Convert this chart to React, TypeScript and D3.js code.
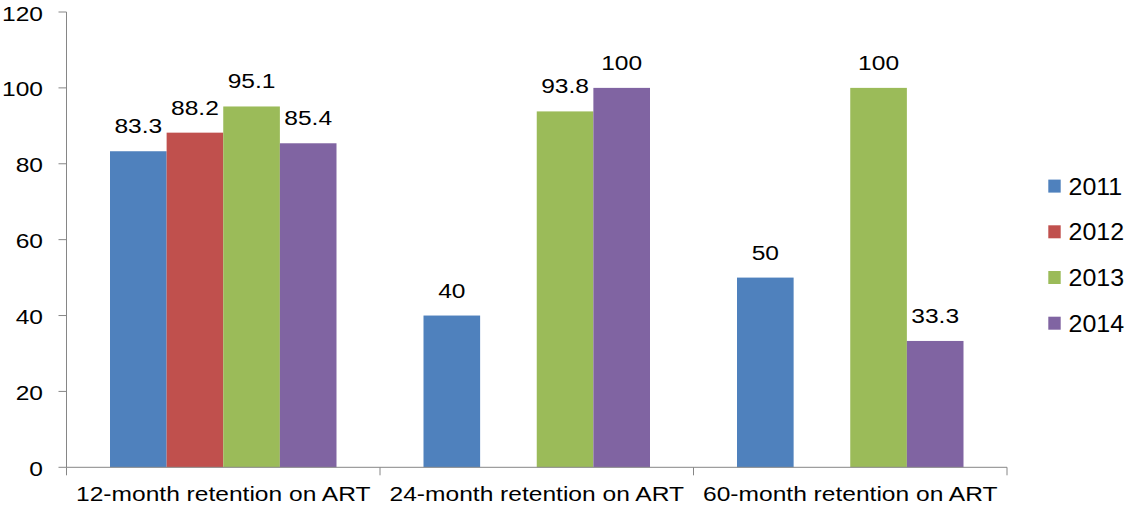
import React from "react";
import * as d3 from "d3";

const categories = [
  "12-month retention on ART",
  "24-month retention on ART",
  "60-month retention on ART",
];
const years = ["2011", "2012", "2013", "2014"];
const values2011 = [83.3, 40, 50];
const values2012: (number | null)[] = [88.2, null, null];
const values2013 = [95.1, 93.8, 100];
const values2014 = [85.4, 100, 33.3];
const seriesValues = [values2011, values2012, values2013, values2014];
const colors = ["#4F81BD", "#C0504D", "#9BBB59", "#8064A2"];
const yTicks = [0, 20, 40, 60, 80, 100, 120];

const W = 1129;
const H = 508;
const left = 66.5;
const right = 1007;
const top = 12;
const bottom = 467.3;
const font = "'Liberation Sans', Arial, sans-serif";
const axisColor = "#868686";
const sx = 1.17; // horizontal stretch of the lettering

function Label({
  x,
  y,
  anchor,
  size = 21,
  stretch = sx,
  children,
}: {
  x: number;
  y: number;
  anchor: "start" | "middle" | "end";
  size?: number;
  stretch?: number;
  children: React.ReactNode;
}) {
  return (
    <text
      transform={`translate(${x},${y}) scale(${stretch},1)`}
      textAnchor={anchor}
      fontSize={size}
      fill="#000"
    >
      {children}
    </text>
  );
}

export default function App() {
  const y = d3.scaleLinear().domain([0, 120]).range([bottom, top]);
  const x = d3.scaleBand().domain(categories).range([left, right]).padding(0);
  // the four bars of a group fill ~72% of each category slot
  const groupW = x.bandwidth() * 0.7225;
  const inner = d3
    .scaleBand()
    .domain(years)
    .range([(x.bandwidth() - groupW) / 2, (x.bandwidth() + groupW) / 2])
    .padding(0);
  const barW = inner.bandwidth();

  return (
    <svg
      width={W}
      height={H}
      style={{ position: "absolute", left: 0, top: 0, background: "#fff" }}
      fontFamily={font}
    >
      {/* y axis */}
      <line x1={left} x2={left} y1={top} y2={bottom} stroke={axisColor} strokeWidth={1} />
      {yTicks.map((t) => (
        <g key={t}>
          <line x1={left - 8} x2={left} y1={y(t)} y2={y(t)} stroke={axisColor} strokeWidth={1} />
          <Label x={43} y={y(t) + 8.5} anchor="end">
            {t}
          </Label>
        </g>
      ))}
      {/* bars with value labels */}
      {categories.map((c, ci) =>
        seriesValues.map((vals, si) => {
          const v = vals[ci];
          if (v == null) return null;
          const bx = (x(c) as number) + (inner(years[si]) as number);
          return (
            <g key={c + si}>
              <rect x={bx} y={y(v)} width={barW} height={bottom - y(v)} fill={colors[si]} />
              <Label x={bx + barW / 2} y={y(v) - 18} anchor="middle">
                {String(v)}
              </Label>
            </g>
          );
        })
      )}
      {/* x axis */}
      <line x1={left} x2={right} y1={bottom} y2={bottom} stroke={axisColor} strokeWidth={1} />
      {[left, ...categories.map((c) => (x(c) as number) + x.bandwidth())].map((tx, i) => (
        <line key={i} x1={tx} x2={tx} y1={bottom} y2={bottom + 8} stroke={axisColor} strokeWidth={1} />
      ))}
      {categories.map((c) => (
        <Label key={c} x={(x(c) as number) + x.bandwidth() / 2} y={501} anchor="middle">
          {c}
        </Label>
      ))}
      {/* legend */}
      {years.map((yr, i) => (
        <g key={yr}>
          <rect x={1048.3} y={179.6 + i * 45.7} width={12.4} height={13} fill={colors[i]} />
          <Label x={1068.5} y={194.5 + i * 45.7} anchor="start" size={24.5} stretch={1.02}>
            {yr}
          </Label>
        </g>
      ))}
    </svg>
  );
}
